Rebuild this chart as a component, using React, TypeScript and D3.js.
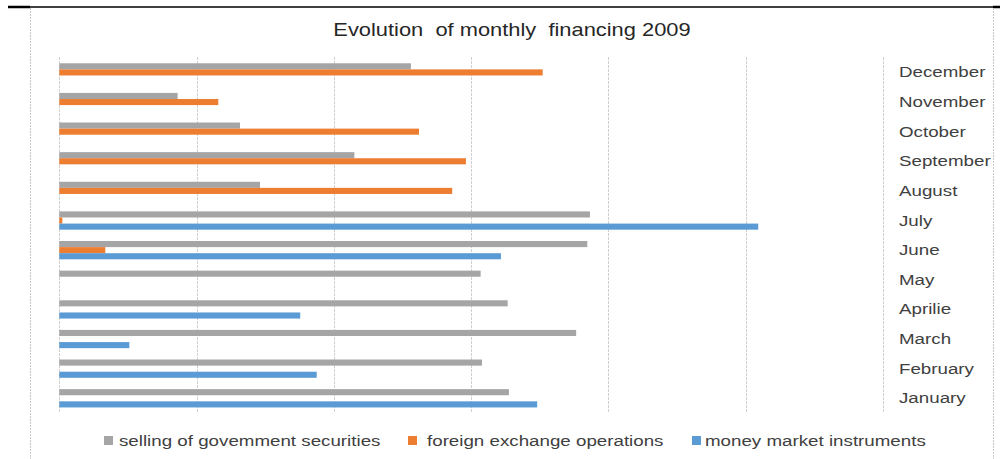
import React from 'react';
import * as d3 from 'd3';

const months = ['January', 'February', 'March', 'Aprilie', 'May', 'June', 'July', 'August', 'September', 'October', 'November', 'December'];
const seriesNames = ['selling of govemment securities', 'foreign exchange operations', 'money market instruments'];
const selling = [3275, 3079, 3765, 3266, 3069, 3846, 3865, 1462, 2149, 1316, 862, 2561];
const foreign = [0, 0, 0, 0, 0, 335, 22, 2862, 2962, 2620, 1158, 3521];
const money = [3481, 1875, 510, 1755, 0, 3217, 5091, 0, 0, 0, 0, 0];
const colors = ['#a5a5a5', '#ed7d31', '#5b9bd5'];

const W = 1000;
const H = 459;

export default function App() {
  const values = [selling, foreign, money];

  const x = d3.scaleLinear().domain([0, 6000]).range([59.3, 883]);
  // December on top, January at the bottom
  const y0 = d3.scaleBand().domain([...months].reverse()).range([57.6, 413.1]);
  const y1 = d3.scaleBand().domain(seriesNames).range([0, y0.bandwidth()]).paddingOuter(0.93);

  const stretch = 'scale(1.25,1)';
  const legendX = [104, 408, 692];
  const legendTextX = [119, 427, 705];

  return (
    <svg width={W} height={H} style={{ position: 'absolute', left: 0, top: 0 }} fontFamily="'Liberation Sans', Arial, sans-serif">
      <rect width={W} height={H} fill="#fff" />
      {/* frame */}
      <line x1={8} x2={30} y1={7} y2={7} stroke="#000" strokeWidth={2.5} />
      <line x1={30} x2={993} y1={7} y2={7} stroke="#000" strokeWidth={1.5} />
      <line x1={993} x2={1000} y1={7} y2={7} stroke="#000" strokeWidth={2.5} />
      <line x1={30.5} x2={30.5} y1={8} y2={H} stroke="#c8c8c8" strokeDasharray="2 1" />
      <line x1={993.5} x2={993.5} y1={8} y2={H} stroke="#c8c8c8" strokeDasharray="2 1" />

      <text transform={`translate(512,36) ${stretch}`} textAnchor="middle" fontSize={17.5} fill="#262626" style={{ whiteSpace: 'pre' }}>
        {'Evolution  of monthly  financing 2009'}
      </text>

      {/* gridlines */}
      {x.ticks(6).map((t) => (
        <line key={t} x1={Math.round(x(t)) + 0.5} x2={Math.round(x(t)) + 0.5} y1={57} y2={412} stroke="#d0d0d0" strokeDasharray="3 1" />
      ))}

      {/* bars */}
      {months.map((m, i) => (
        <g key={m} transform={`translate(0,${y0(m)})`}>
          {seriesNames.map((s, k) =>
            values[k][i] > 0 ? (
              <rect key={s} x={x(0)} y={y1(s)} width={x(values[k][i]) - x(0)} height={y1.bandwidth()} fill={colors[k]} />
            ) : null
          )}
          <text transform={`translate(899,${y0.bandwidth() / 2 + 5}) ${stretch}`} fontSize={15} fill="#404040">
            {m}
          </text>
        </g>
      ))}

      {/* legend */}
      {seriesNames.map((s, k) => (
        <g key={s}>
          <rect x={legendX[k]} y={436} width={9} height={9} fill={colors[k]} />
          <text transform={`translate(${legendTextX[k]},446) ${stretch}`} fontSize={15} fill="#404040">
            {s}
          </text>
        </g>
      ))}
    </svg>
  );
}
